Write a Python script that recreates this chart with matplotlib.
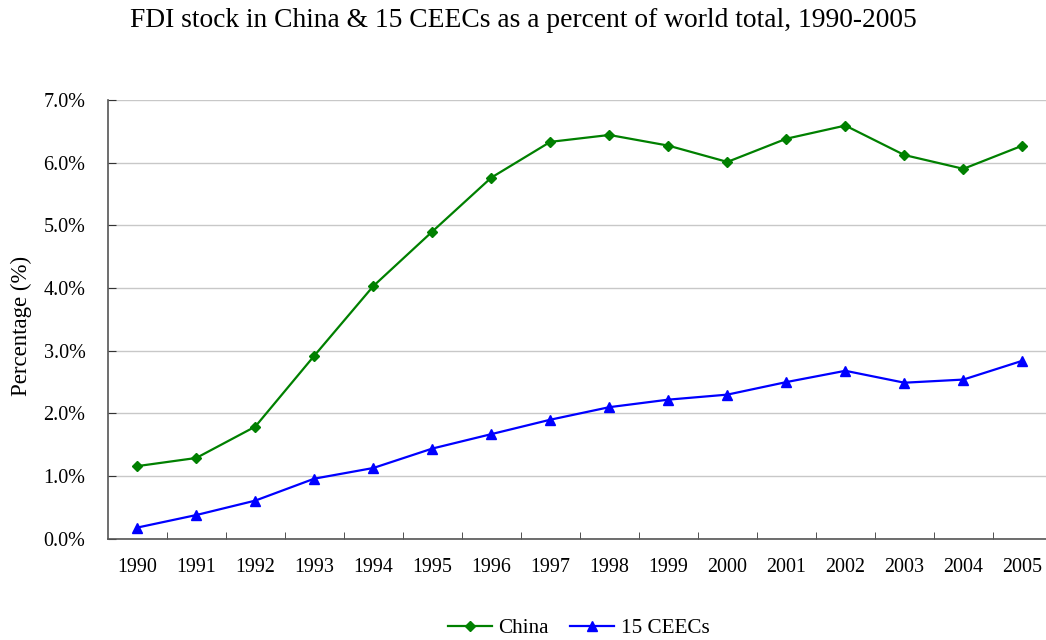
import numpy as np
import matplotlib.pyplot as plt
from matplotlib.ticker import FuncFormatter, FixedLocator

plt.rcParams['font.family'] = ['Liberation Serif', 'DejaVu Serif']

years = ['1990', '1991', '1992', '1993', '1994', '1995', '1996', '1997',
         '1998', '1999', '2000', '2001', '2002', '2003', '2004', '2005']
china = [1.16, 1.29, 1.79, 2.92, 4.03, 4.90, 5.76, 6.33,
         6.44, 6.27, 6.01, 6.38, 6.59, 6.12, 5.90, 6.27]
ceecs = [0.18, 0.38, 0.61, 0.96, 1.13, 1.44, 1.67, 1.90,
         2.10, 2.22, 2.30, 2.50, 2.68, 2.49, 2.54, 2.84]

fig = plt.figure(figsize=(10.46, 6.4), dpi=100)
ax = fig.add_axes([0.103, 0.158, 0.897, 0.686])

x = np.arange(len(years))
ax.plot(x, china, color='#008000', marker='D', markersize=5, lw=1.6, label='China')
ax.plot(x, ceecs, color='#0000ff', marker='^', markersize=7, lw=1.6, label='15 CEECs')

ax.set_xlim(-0.5, 15.4)
ax.set_ylim(0, 7)
ax.set_yticks(np.arange(0, 7.01, 1))
ax.yaxis.set_major_formatter(FuncFormatter(lambda v, p: f'{v:.1f}%'))
ax.set_xticks(x)
ax.set_xticklabels(years)
# category axis: ticks sit between the years
ax.xaxis.set_minor_locator(FixedLocator(np.arange(0.5, 15, 1)))
ax.tick_params(axis='x', which='major', length=0, pad=14, labelsize=14.4)
ax.tick_params(axis='x', which='minor', length=5, direction='in', color='#333333')
ax.tick_params(axis='y', length=5.5, direction='in', pad=16, labelsize=14.5, color='#333333')

ax.grid(axis='y', color='#c8c8c8', lw=1)
ax.set_axisbelow(True)
for s in ['top', 'right']:
    ax.spines[s].set_visible(False)
for s in ['left', 'bottom']:
    ax.spines[s].set_color('#555555')
    ax.spines[s].set_linewidth(1.2)

fig.text(21 / 1046, 1 - 326 / 640, 'Percentage (%)', rotation=90,
         ha='center', va='center', fontsize=16.5)
fig.text(0.5, 0.968, 'FDI stock in China & 15 CEECs as a percent of world total, 1990-2005',
         ha='center', va='center', fontsize=19.8)

fig.legend(loc='center', bbox_to_anchor=(0.553, 0.018), ncol=2, frameon=False,
           fontsize=15.2, handlelength=2.1, handletextpad=0.3, columnspacing=1.0,
           borderaxespad=0)

fig.savefig('out.png', dpi=100)
